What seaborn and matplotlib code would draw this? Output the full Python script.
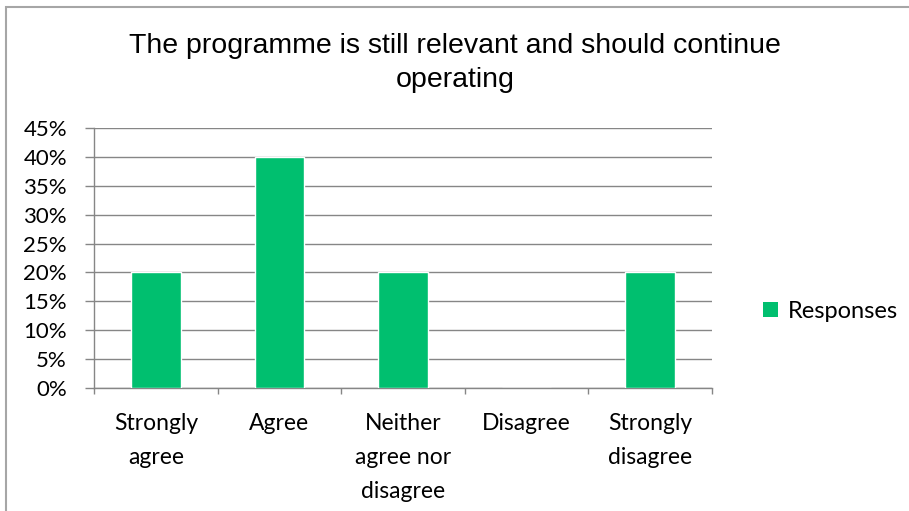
import matplotlib
matplotlib.use("Agg")
import matplotlib.pyplot as plt
from matplotlib.patches import Rectangle, Patch
from matplotlib.ticker import PercentFormatter
import seaborn as sns
import pandas as pd

categories = ["Strongly\nagree", "Agree", "Neither\nagree nor\ndisagree", "Disagree", "Strongly\ndisagree"]
responses = [0.20, 0.40, 0.20, 0.0, 0.20]
y_ticks = [0, 0.05, 0.10, 0.15, 0.20, 0.25, 0.30, 0.35, 0.40, 0.45]

title = "The programme is still relevant and should continue\noperating"
series_name = "Responses"
bar_color = "#00BF6F"
grid_color = "#868686"

df = pd.DataFrame({"category": categories, "value": responses})

sns.set_theme(style="white")
plt.rcParams["font.family"] = ["Lato", "DejaVu Sans"]

W, H, DPI = 909, 511, 100
fig = plt.figure(figsize=(W / DPI, H / DPI), dpi=DPI)
fig.patch.set_facecolor("white")

# plot area in pixel coordinates
left, right, top, bottom = 94, 712, 128, 388
ax = fig.add_axes([left / W, 1 - bottom / H, (right - left) / W, (bottom - top) / H])

sns.barplot(data=df, x="category", y="value", color=bar_color, width=0.4,
            saturation=1, ax=ax, zorder=3)

ax.set_ylim(0, 0.45)
ax.set_xlim(-0.5, len(categories) - 0.5)
ax.set_yticks(y_ticks)
ax.yaxis.set_major_formatter(PercentFormatter(1.0, decimals=0))
ax.set_xlabel("")
ax.set_ylabel("")

ax.grid(axis="y", color=grid_color, linewidth=1, zorder=0)
ax.set_axisbelow(True)
for side in ["top", "right"]:
    ax.spines[side].set_visible(False)
for side in ["left", "bottom"]:
    ax.spines[side].set_color(grid_color)
    ax.spines[side].set_linewidth(1)

# y ticks outward on the left, category boundary ticks on the x axis
ax.tick_params(axis="y", which="major", direction="out", length=6.5, width=1,
               color=grid_color, labelsize=16, pad=13, left=True)
ax.set_xticks(range(len(categories)))
ax.set_xticklabels(categories, fontsize=16.5, linespacing=1.75)
ax.tick_params(axis="x", which="major", length=0, pad=18)
ax.set_xticks([i - 0.5 for i in range(len(categories) + 1)], minor=True)
ax.tick_params(axis="x", which="minor", direction="out", length=4.5, width=1,
               color=grid_color, bottom=True)
for lbl in ax.get_xticklabels():
    lbl.set_verticalalignment("top")
for lbl in ax.get_yticklabels() + ax.get_xticklabels():
    lbl.set_color("#000000")

fig.text(455 / W, 1 - 33 / H, title, ha="center", va="top", fontsize=20.5,
         family=["Liberation Sans", "DejaVu Sans"], linespacing=1.42, color="#000000")

handles = [Patch(facecolor=bar_color, edgecolor="none", label=series_name)]
fig.legend(handles=handles, loc="center left", bbox_to_anchor=(754 / W, 1 - 311 / H),
           frameon=False, fontsize=17, handlelength=0.62, handleheight=0.62,
           handletextpad=0.4, borderaxespad=0, labelcolor="#000000")

# chart frame
fig.patches.append(Rectangle((5.5 / W, -0.05), 1.1, 1 - 7 / H + 0.05, transform=fig.transFigure,
                             fill=False, edgecolor="#A6A6A6", linewidth=1.5))

fig.savefig("out.png", dpi=DPI)
